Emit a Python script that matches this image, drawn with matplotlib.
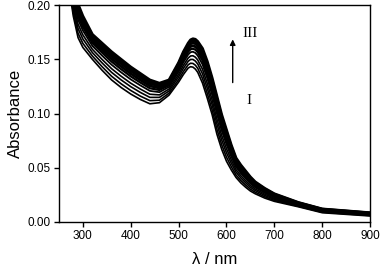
import matplotlib
matplotlib.use("Agg")
import matplotlib.pyplot as plt

plt.rcParams['font.family'] = ['Liberation Sans', 'DejaVu Sans']

wavelengths = [275, 280, 290, 300, 320, 340, 360, 380, 400, 420, 440, 460, 480, 500, 510, 520, 525,
               530, 535, 540, 550, 560, 570, 580, 590, 600, 610, 620, 630, 640, 650, 660, 680, 700, 750, 800, 900]

spec_01 = [.205, .190, .170, .161, .150, .140, .131, .124, .118, .113, .109, .110, .117, .129, .136, .142, .1432,
           .1428, .1410, .138, .128, .114, .099, .081, .067, .056, .048, .041, .036, .032, .0285, .026, .022, .019, .014, .0085, .0055]
spec_02 = [.2076, .1933, .1740, .1648, .1530, .1433, .1344, .1274, .1213, .1161, .1119, .1123, .1188, .1313, .1387, .1450, .1464,
           .1462, .1446, .1417, .1322, .1184, .1034, .0856, .0712, .0598, .0510, .0433, .0382, .0340, .0302, .0274, .0232, .0199, .0145, .0090, .0059]
spec_03 = [.2104, .1968, .1784, .1688, .1562, .1468, .1380, .1310, .1248, .1195, .1149, .1149, .1208, .1339, .1417, .1482, .1499,
           .1499, .1484, .1457, .1366, .1232, .1082, .0905, .0756, .0638, .0542, .0459, .0405, .0361, .0320, .0290, .0244, .0209, .0151, .0094, .0063]
spec_04 = [.2130, .2000, .1824, .1726, .1592, .1500, .1414, .1344, .1280, .1226, .1178, .1172, .1226, .1362, .1444, .1512, .1531,
           .1533, .1520, .1494, .1408, .1276, .1126, .0950, .0798, .0676, .0572, .0482, .0426, .0380, .0337, .0304, .0256, .0218, .0156, .0099, .0067]
spec_05 = [.2158, .2035, .1867, .1767, .1624, .1535, .1450, .1380, .1315, .1260, .1209, .1197, .1246, .1387, .1473, .1544, .1566,
           .1570, .1559, .1534, .1453, .1324, .1174, .0999, .0843, .0717, .0604, .0507, .0449, .0401, .0355, .0319, .0269, .0228, .0162, .0104, .0071]
spec_06 = [.2180, .2063, .1902, .1799, .1650, .1563, .1479, .1409, .1343, .1286, .1233, .1217, .1261, .1407, .1497, .1570, .1593,
           .1598, .1589, .1565, .1488, .1361, .1211, .1038, .0878, .0749, .0630, .0527, .0467, .0418, .0370, .0332, .0279, .0236, .0166, .0108, .0075]
spec_07 = [.2200, .2088, .1933, .1828, .1673, .1588, .1505, .1435, .1368, .1310, .1255, .1235, .1275, .1425, .1518, .1593, .1618,
           .1625, .1616, .1594, .1520, .1395, .1245, .1073, .0910, .0778, .0653, .0545, .0484, .0433, .0383, .0343, .0288, .0243, .0170, .0111, .0078]
spec_08 = [.2220, .2113, .1964, .1857, .1696, .1613, .1531, .1461, .1393, .1334, .1277, .1253, .1289, .1443, .1539, .1616, .1643,
           .1651, .1644, .1622, .1552, .1429, .1279, .1108, .0942, .0807, .0676, .0563, .0500, .0448, .0396, .0354, .0297, .0250, .0174, .0115, .0081]
spec_09 = [.2236, .2133, .1988, .1880, .1714, .1633, .1552, .1482, .1413, .1353, .1295, .1267, .1300, .1457, .1555, .1634, .1663,
           .1672, .1666, .1645, .1578, .1456, .1306, .1136, .0968, .0830, .0694, .0577, .0514, .0460, .0406, .0362, .0304, .0255, .0177, .0118, .0083]
spec_10 = [.225, .215, .201, .190, .173, .165, .157, .150, .143, .137, .131, .128, .131, .147, .157, .165, .168,
           .169, .1685, .1665, .160, .148, .133, .116, .099, .085, .071, .059, .0525, .047, .0415, .037, .031, .026, .018, .012, .0085]

spectra = [spec_01, spec_02, spec_03, spec_04, spec_05, spec_06, spec_07, spec_08, spec_09, spec_10]
line_widths = [1.2, 1.2, 1.2, 1.2, 1.3, 1.6, 2.0, 2.0, 2.0, 2.0]

x_ticks = [300, 400, 500, 600, 700, 800, 900]
y_ticks = [0.00, 0.05, 0.10, 0.15, 0.20]
y_tick_labels = ["0.00", "0.05", "0.10", "0.15", "0.20"]

fig = plt.figure(figsize=(3.8, 2.7), dpi=100)
ax = fig.add_axes([0.155, 0.178, 0.819, 0.803])

for s, w in zip(spectra, line_widths):
    ax.plot(wavelengths, s, color='black', lw=w, solid_joinstyle='round')

ax.set_xlim(250, 900)
ax.set_ylim(0, 0.20)
ax.set_xticks(x_ticks)
ax.set_xticklabels([str(v) for v in x_ticks])
ax.set_yticks(y_ticks)
ax.set_yticklabels(y_tick_labels)
ax.tick_params(direction='out', length=3.5, width=1.0, labelsize=8.5, pad=2.5, top=False, right=False)
for sp in ax.spines.values():
    sp.set_linewidth(1.0)

ax.set_ylabel("Absorbance", fontsize=12, labelpad=3)
ax.set_xlabel("λ / nm", fontsize=12, labelpad=7)

ax.annotate("", xy=(613, 0.171), xytext=(613, 0.126),
            arrowprops=dict(arrowstyle='-|>', color='black', lw=1.0, mutation_scale=8))
ax.text(650, 0.174, "III", family='Liberation Serif', fontsize=11, ha='center', va='center')
ax.text(647, 0.112, "I", family='Liberation Serif', fontsize=11, ha='center', va='center')

fig.savefig("out.png", dpi=100)
